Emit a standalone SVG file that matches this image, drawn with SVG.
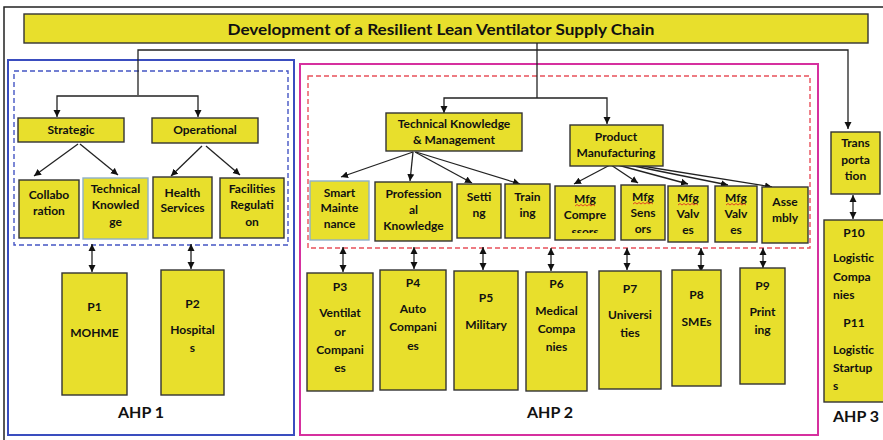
<svg xmlns="http://www.w3.org/2000/svg" width="883" height="440" viewBox="0 0 883 440">
<defs>
<style>
.box{fill:#e8df2c;stroke:#333;stroke-width:1.4}
.boxb{fill:#e8df2c;stroke:#8fb0c8;stroke-width:1.4}
.t{font-family:Lato,"Liberation Sans",sans-serif;font-weight:bold;font-size:12px;fill:#111;text-anchor:middle}
.tl{font-family:Lato,"Liberation Sans",sans-serif;font-weight:bold;font-size:12px;fill:#111}
.ahp{font-family:Lato,"Liberation Sans",sans-serif;font-weight:bold;font-size:16px;fill:#111}
.c{fill:none;stroke:#222;stroke-width:1.3}
.sq{fill:none;stroke:#e02020;stroke-width:0.8}
</style>
<marker id="ah" markerUnits="userSpaceOnUse" markerWidth="8" markerHeight="8" refX="7" refY="4" orient="auto-start-reverse">
<path d="M0,0.5 L7,4 L0,7.5 z" fill="#111"/>
</marker>
<clipPath id="cpComp"><rect x="555" y="186" width="60" height="47"/></clipPath>
</defs>
<rect width="883" height="440" fill="#fff"/>
<path d="M4,440 V7 H883" fill="none" stroke="#222" stroke-width="1.5"/>

<g id="title">
<rect class="box" x="24" y="14" width="844" height="29"/>
<text x="441" y="35" font-family="Lato,'Liberation Sans',sans-serif" font-weight="bold" font-size="15.5" fill="#111" text-anchor="middle" textLength="427" lengthAdjust="spacingAndGlyphs">Development of a Resilient Lean Ventilator Supply Chain</text>
</g>

<g id="ahp1-frame">
<rect x="8" y="60" width="286" height="375" fill="none" stroke="#3a4dbf" stroke-width="2"/>
<rect x="14" y="71" width="274" height="174" fill="none" stroke="#4455c4" stroke-width="1.4" stroke-dasharray="5,3"/>
<text class="ahp" x="118" y="418">AHP 1</text>
</g>
<g id="ahp2-frame">
<rect x="300" y="64" width="518" height="371" fill="none" stroke="#d6309f" stroke-width="2"/>
<rect x="308" y="76" width="502" height="172" fill="none" stroke="#e8505b" stroke-width="1.4" stroke-dasharray="5,3"/>
<text class="ahp" x="527" y="418">AHP 2</text>
</g>
<g id="ahp3-label">
<text class="ahp" x="833" y="422">AHP 3</text>
</g>

<g id="connectors">
<path class="c" d="M138,95 V50 H848 V129" marker-end="url(#ah)"/>
<path class="c" d="M138,96 H57 V117" marker-end="url(#ah)"/>
<path class="c" d="M138,96 H198 V117" marker-end="url(#ah)"/>
<path class="c" d="M537,43 V98"/>
<path class="c" d="M537,98 H444 V113" marker-end="url(#ah)"/>
<path class="c" d="M537,98 H607 V124" marker-end="url(#ah)"/>
<path class="c" d="M78,144 L34,176" marker-end="url(#ah)"/>
<path class="c" d="M80,144 L118,175" marker-end="url(#ah)"/>
<path class="c" d="M202,146 L171,176" marker-end="url(#ah)"/>
<path class="c" d="M206,146 L240,175" marker-end="url(#ah)"/>
<path class="c" d="M413,152 L341,177" marker-end="url(#ah)"/>
<path class="c" d="M413,152 L410,181" marker-end="url(#ah)"/>
<path class="c" d="M415,152 L472,183" marker-end="url(#ah)"/>
<path class="c" d="M416,152 L520,184" marker-end="url(#ah)"/>
<path class="c" d="M610,165 L574,184" marker-end="url(#ah)"/>
<path class="c" d="M611,165 L638,183" marker-end="url(#ah)"/>
<path class="c" d="M614,164 L688,184" marker-end="url(#ah)"/>
<path class="c" d="M619,163 L728,185" marker-end="url(#ah)"/>
<path class="c" d="M623,163 L772,187" marker-end="url(#ah)"/>
<path class="c" d="M92,244 V272" marker-start="url(#ah)" marker-end="url(#ah)"/>
<path class="c" d="M191,244 V269" marker-start="url(#ah)" marker-end="url(#ah)"/>
<path class="c" d="M343,247 V272" marker-start="url(#ah)" marker-end="url(#ah)"/>
<path class="c" d="M414,247 V269" marker-start="url(#ah)" marker-end="url(#ah)"/>
<path class="c" d="M483,247 V270" marker-start="url(#ah)" marker-end="url(#ah)"/>
<path class="c" d="M551,248 V271" marker-start="url(#ah)" marker-end="url(#ah)"/>
<path class="c" d="M627,248 V270" marker-start="url(#ah)" marker-end="url(#ah)"/>
<path class="c" d="M701,248 V272" marker-start="url(#ah)" marker-end="url(#ah)"/>
<path class="c" d="M763,248 V268" marker-start="url(#ah)" marker-end="url(#ah)"/>
<path class="c" d="M853,195 V219" marker-start="url(#ah)" marker-end="url(#ah)"/>
</g>

<g id="strategic"><rect class="box" x="18" y="118" width="106" height="24"/><text class="t" x="71" y="134">Strategic</text></g>
<g id="operational"><rect class="box" x="152" y="118" width="106" height="25"/><text class="t" x="205" y="134">Operational</text></g>
<g id="collaboration"><rect class="box" x="19" y="180" width="60" height="58"/><text class="t" x="49" y="199">Collabo</text><text class="t" x="49" y="215">ration</text></g>
<g id="technical-knowledge"><rect class="boxb" x="83" y="178" width="65" height="61"/><text class="t" x="115.5" y="193">Technical</text><text class="t" x="115.5" y="209">Knowled</text><text class="t" x="115.5" y="226">ge</text></g>
<g id="health-services"><rect class="box" x="153" y="177" width="59" height="61"/><text class="t" x="182.5" y="197">Health</text><text class="t" x="182.5" y="212">Services</text></g>
<g id="facilities-regulation"><rect class="box" x="220" y="178" width="64" height="60"/><text class="t" x="252" y="193">Facilities</text><text class="t" x="252" y="209">Regulati</text><text class="t" x="252" y="226">on</text></g>
<g id="p1"><rect class="box" x="62" y="273" width="65" height="122"/><text class="t" x="94.5" y="311">P1</text><text class="t" x="94.5" y="337">MOHME</text></g>
<g id="p2"><rect class="box" x="161" y="270" width="63" height="125"/><text class="t" x="192.5" y="308">P2</text><text class="t" x="192.5" y="334">Hospital</text><text class="t" x="192.5" y="352">s</text></g>

<g id="tkm"><rect class="box" x="386" y="113" width="136" height="38"/><text class="t" x="454" y="128">Technical Knowledge</text><text class="t" x="454" y="144">&amp; Management</text></g>
<g id="product-manufacturing"><rect class="box" x="570" y="125" width="93" height="41"/><text class="t" x="616" y="141">Product</text><text class="t" x="616" y="157">Manufacturing</text></g>
<g id="smart-maintenance"><rect class="boxb" x="310" y="181" width="59" height="59"/><text class="t" x="339.5" y="197">Smart</text><text class="t" x="339.5" y="212">Mainte</text><text class="t" x="339.5" y="228">nance</text></g>
<g id="professional-knowledge"><rect class="box" x="375" y="182" width="77" height="59"/><text class="t" x="413.5" y="198">Profession</text><text class="t" x="413.5" y="214">al</text><text class="t" x="413.5" y="230">Knowledge</text></g>
<g id="setting"><rect class="box" x="457" y="184" width="44" height="54"/><text class="t" x="479" y="201">Setti</text><text class="t" x="479" y="217">ng</text></g>
<g id="training"><rect class="box" x="505" y="184" width="45" height="54"/><text class="t" x="527.5" y="201">Train</text><text class="t" x="527.5" y="217">ing</text></g>
<g id="mfg-compressors"><rect class="box" x="555" y="186" width="60" height="54"/><g clip-path="url(#cpComp)"><text class="t" x="585" y="203">Mfg</text><text class="t" x="585" y="219">Compre</text><text class="t" x="585" y="236">ssors</text></g><path class="sq" d="M575,206 l2,-1.5 l2,1.5 l2,-1.5 l2,1.5 l2,-1.5 l2,1.5 l2,-1.5 l2,1.5 l2,-1.5 l2,1.5"/></g>
<g id="mfg-sensors"><rect class="box" x="621" y="185" width="44" height="55"/><text class="t" x="643" y="201">Mfg</text><text class="t" x="643" y="217">Sens</text><text class="t" x="643" y="233">ors</text><path class="sq" d="M633,204 l2,-1.5 l2,1.5 l2,-1.5 l2,1.5 l2,-1.5 l2,1.5 l2,-1.5 l2,1.5 l2,-1.5 l2,1.5"/></g>
<g id="mfg-valves-1"><rect class="box" x="668" y="186" width="40" height="56"/><text class="t" x="688" y="202">Mfg</text><text class="t" x="688" y="218">Valv</text><text class="t" x="688" y="234">es</text><path class="sq" d="M678,205 l2,-1.5 l2,1.5 l2,-1.5 l2,1.5 l2,-1.5 l2,1.5 l2,-1.5 l2,1.5 l2,-1.5 l2,1.5"/></g>
<g id="mfg-valves-2"><rect class="box" x="715" y="186" width="42" height="56"/><text class="t" x="736" y="202">Mfg</text><text class="t" x="736" y="218">Valv</text><text class="t" x="736" y="234">es</text><path class="sq" d="M726,205 l2,-1.5 l2,1.5 l2,-1.5 l2,1.5 l2,-1.5 l2,1.5 l2,-1.5 l2,1.5 l2,-1.5 l2,1.5"/></g>
<g id="assembly"><rect class="box" x="762" y="187" width="46" height="56"/><text class="t" x="785" y="206">Asse</text><text class="t" x="785" y="222">mbly</text></g>

<g id="p3"><rect class="box" x="307" y="273" width="66" height="118"/><text class="t" x="340" y="291">P3</text><text class="t" x="340" y="317">Ventilat</text><text class="t" x="340" y="336">or</text><text class="t" x="340" y="354">Compani</text><text class="t" x="340" y="372">es</text></g>
<g id="p4"><rect class="box" x="380" y="270" width="66" height="120"/><text class="t" x="413" y="287">P4</text><text class="t" x="413" y="313">Auto</text><text class="t" x="413" y="331">Compani</text><text class="t" x="413" y="350">es</text></g>
<g id="p5"><rect class="box" x="454" y="271" width="64" height="119"/><text class="t" x="486" y="302">P5</text><text class="t" x="486" y="329">Military</text></g>
<g id="p6"><rect class="box" x="526" y="272" width="61" height="119"/><text class="t" x="556.5" y="288">P6</text><text class="t" x="556.5" y="315">Medical</text><text class="t" x="556.5" y="333">Compa</text><text class="t" x="556.5" y="351">nies</text></g>
<g id="p7"><rect class="box" x="599" y="271" width="62" height="118"/><text class="t" x="630" y="293">P7</text><text class="t" x="630" y="319">Universi</text><text class="t" x="630" y="337">ties</text></g>
<g id="p8"><rect class="box" x="672" y="270" width="49" height="116"/><text class="t" x="696.5" y="299">P8</text><text class="t" x="696.5" y="326">SMEs</text></g>
<g id="p9"><rect class="box" x="740" y="268" width="45" height="116"/><text class="t" x="762.5" y="290">P9</text><text class="t" x="762.5" y="316">Print</text><text class="t" x="762.5" y="334">ing</text></g>

<g id="transportation"><rect class="box" x="831" y="132" width="49" height="62"/><text class="t" x="855.5" y="147">Trans</text><text class="t" x="855.5" y="164">porta</text><text class="t" x="855.5" y="180">tion</text></g>
<g id="p10-p11"><rect class="box" x="824" y="220" width="62" height="182"/><text class="t" x="854" y="237">P10</text><text class="tl" x="833" y="262">Logistic</text><text class="tl" x="833" y="281">Compa</text><text class="tl" x="833" y="299">nies</text><text class="t" x="854" y="327">P11</text><text class="tl" x="833" y="354">Logistic</text><text class="tl" x="833" y="372">Startup</text><text class="tl" x="833" y="390">s</text></g>
</svg>
